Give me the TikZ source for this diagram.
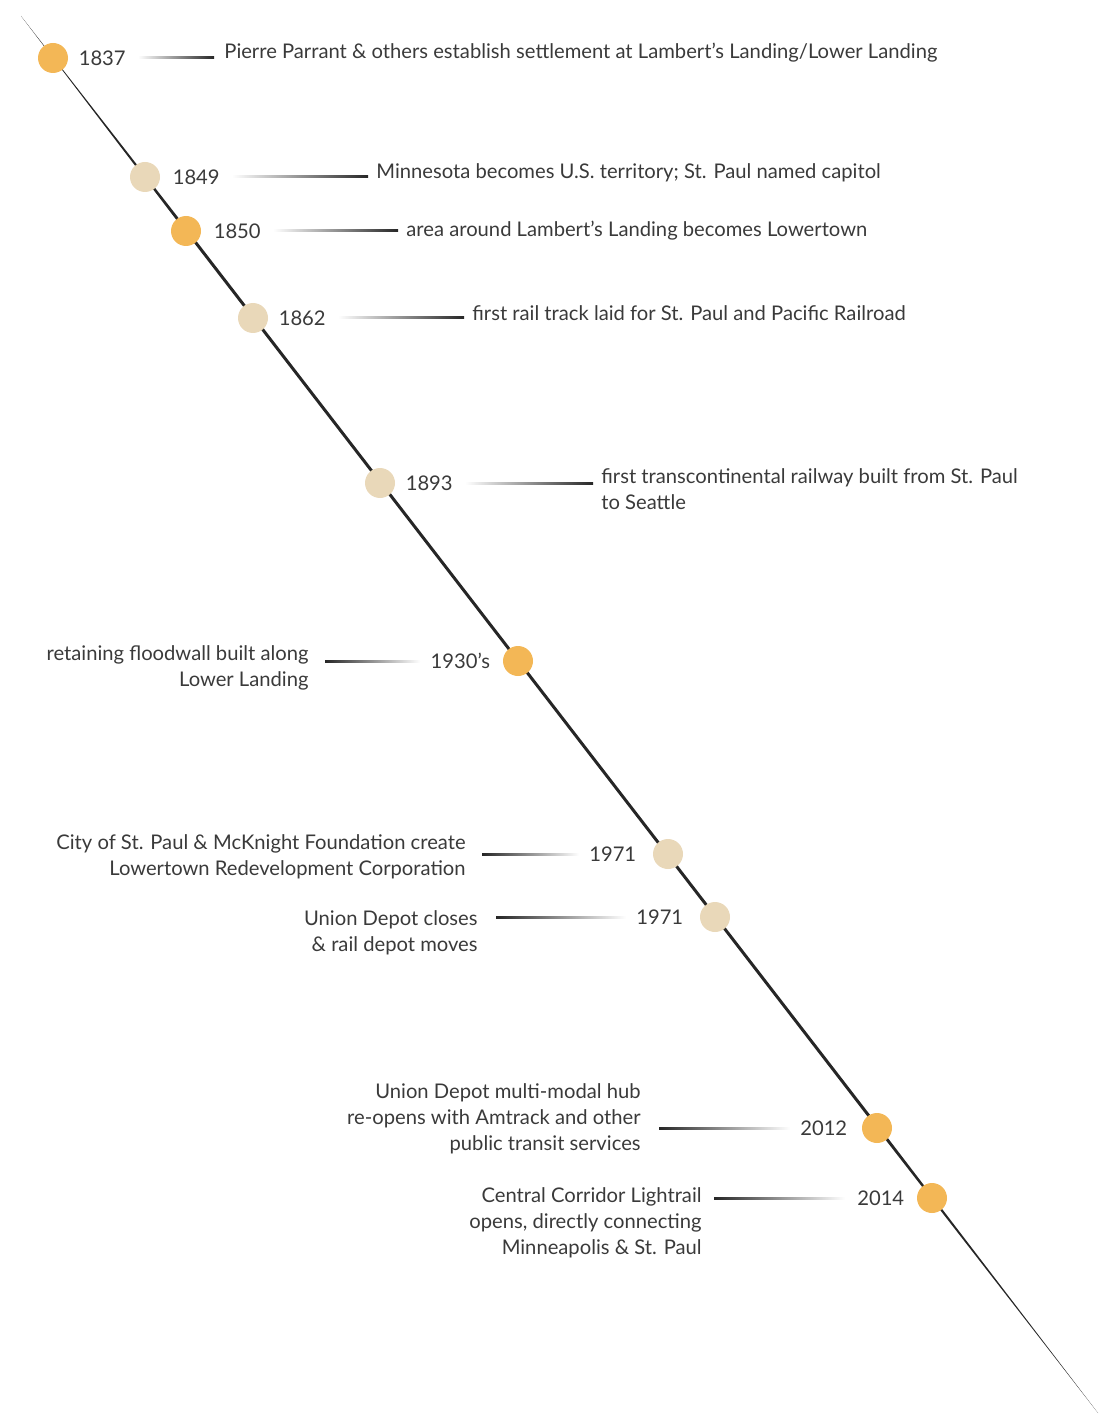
\documentclass[tikz,border=0pt]{standalone}
\usepackage{fontspec}
\setmainfont{Lato}
\usetikzlibrary{positioning,calc}
\definecolor{dotgold}{HTML}{F3B756}
\definecolor{dotsand}{HTML}{E9D8B9}
\definecolor{inkgray}{HTML}{3A3A3A}

\begin{document}
\begin{tikzpicture}[
  x=0.5pt, y=-0.5pt,
  font=\fontsize{10.1}{13}\selectfont, text=inkgray,
  gold/.style={circle, fill=dotgold, minimum size=15pt, inner sep=0pt},
  sand/.style={circle, fill=dotsand, minimum size=15pt, inner sep=0pt},
  year/.style={inner sep=0pt},
  eventr/.style={inner sep=0pt, align=left},
  eventl/.style={inner sep=0pt, align=right},
  linkr/.style={left color=white, right color=black!85},
  linkl/.style={left color=black!85, right color=white}
]
\useasboundingbox (0,0) rectangle (1118,1417);

% Timeline (tapered diagonal)
\coordinate (top) at (21,16);
\coordinate (bot) at (1098,1413);
\coordinate (wa) at ($(top)!0.15!(bot)$);
\coordinate (wb) at ($(top)!0.8!(bot)$);
\fill[black!85] (top) -- ($(wa)!0.75pt!90:(wb)$) -- ($(wb)!0.75pt!-90:(wa)$) -- (bot)
  -- ($(wb)!0.75pt!90:(wa)$) -- ($(wa)!0.75pt!-90:(wb)$) -- cycle;

% Events on the right
\node[gold] (d1837) at (53,58) {};
\node[year, right=5pt of d1837] (y1837) {1837};
\node[eventr, anchor=base west] (t1837) at (224,59) {Pierre Parrant \& others establish settlement at Lambert’s Landing/Lower Landing};
\shade[linkr] ($(y1837.east)+(6pt,0.5pt)$) rectangle ($(y1837.east -| t1837.west)+(-5pt,-0.5pt)$);

\node[sand] (d1849) at (145,177) {};
\node[year, right=6pt of d1849] (y1849) {1849};
\node[eventr, anchor=base west] (t1849) at (376,179) {Minnesota becomes U.S. territory; St. Paul named capitol};
\shade[linkr] ($(y1849.east)+(6pt,0.5pt)$) rectangle ($(y1849.east -| t1849.west)+(-4pt,-0.5pt)$);

\node[gold] (d1850) at (186,231) {};
\node[year, right=6pt of d1850] (y1850) {1850};
\node[eventr, anchor=base west] (t1850) at (406,237) {area around Lambert’s Landing becomes Lowertown};
\shade[linkr] ($(y1850.east)+(6pt,0.5pt)$) rectangle ($(y1850.east -| t1850.west)+(-4pt,-0.5pt)$);

\node[sand] (d1862) at (253,318) {};
\node[year, right=5pt of d1862] (y1862) {1862};
\node[eventr, anchor=base west] (t1862) at (472,321) {first rail track laid for St. Paul and Pacific Railroad};
\shade[linkr] ($(y1862.east)+(6pt,0.5pt)$) rectangle ($(y1862.east -| t1862.west)+(-4pt,-0.5pt)$);

\node[sand] (d1893) at (380,483) {};
\node[year, right=5pt of d1893] (y1893) {1893};
\node[eventr, anchor=base west] (t1893) at (601,509) {first transcontinental railway built from St. Paul\\to Seattle};
\shade[linkr] ($(y1893.east)+(6pt,0.5pt)$) rectangle ($(y1893.east -| t1893.west)+(-4pt,-0.5pt)$);

% Events on the left
\node[gold] (d1930) at (518,661) {};
\node[year, left=6pt of d1930] (y1930) {1930’s};
\node[eventl, anchor=base east] (t1930) at (309,686) {retaining floodwall built along\\Lower Landing};
\shade[linkl] ($(t1930.east |- y1930)+(8pt,0.5pt)$) rectangle ($(y1930.west)+(-5pt,-0.5pt)$);

\node[sand] (d1971a) at (668,854) {};
\node[year, left=8pt of d1971a] (y1971a) {1971};
\node[eventl, anchor=base east] (t1971a) at (466,875) {City of St. Paul \& McKnight Foundation create\\Lowertown Redevelopment Corporation};
\shade[linkl] ($(t1971a.east |- y1971a)+(8pt,0.5pt)$) rectangle ($(y1971a.west)+(-5pt,-0.5pt)$);

\node[sand] (d1971b) at (715,917) {};
\node[year, left=8pt of d1971b] (y1971b) {1971};
\node[eventl, anchor=base east] (t1971b) at (478,951) {Union Depot closes\\\& rail depot moves};
\shade[linkl] ($(t1971b.east |- y1971b)+(9pt,0.5pt)$) rectangle ($(y1971b.west)+(-5pt,-0.5pt)$);

\node[gold] (d2012) at (877,1128) {};
\node[year, left=7pt of d2012] (y2012) {2012};
\node[eventl, anchor=base east] (t2012) at (641,1150) {Union Depot multi-modal hub\\re-opens with Amtrack and other\\public transit services};
\shade[linkl] ($(t2012.east |- y2012)+(9pt,0.5pt)$) rectangle ($(y2012.west)+(-5pt,-0.5pt)$);

\node[gold] (d2014) at (932,1198) {};
\node[year, left=6pt of d2014] (y2014) {2014};
\node[eventl, anchor=base east] (t2014) at (702,1254) {Central Corridor Lightrail\\opens, directly connecting\\Minneapolis \& St. Paul};
\shade[linkl] ($(t2014.east |- y2014)+(6pt,0.5pt)$) rectangle ($(y2014.west)+(-6pt,-0.5pt)$);

\end{tikzpicture}
\end{document}
